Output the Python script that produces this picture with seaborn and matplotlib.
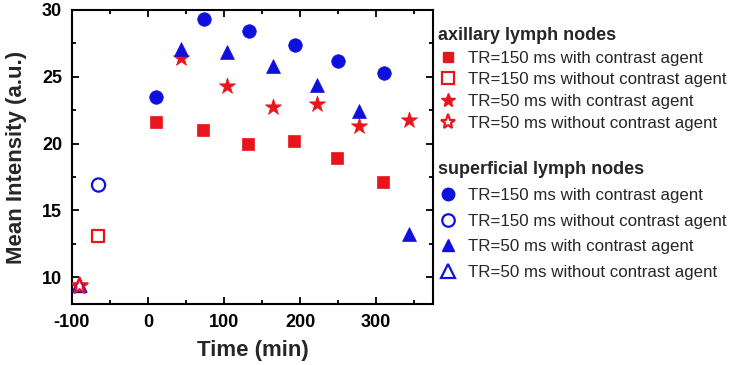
import matplotlib
matplotlib.use("Agg")
import matplotlib.pyplot as plt
import seaborn as sns
from matplotlib.lines import Line2D
from matplotlib.ticker import MultipleLocator

sns.set_theme(style="ticks")
plt.rcParams["font.family"] = ["Liberation Sans", "DejaVu Sans"]
plt.rcParams["axes.unicode_minus"] = False

RED = "#e8151c"
BLUE = "#1010dd"

# axillary lymph nodes
ax_sq_t = [11, 73, 132, 192, 249, 309]
ax_sq_v = [21.6, 21.05, 20.0, 20.2, 18.95, 17.1]
ax_sq_open_t = [-66]
ax_sq_open_v = [13.1]
ax_star_t = [43, 104, 164, 223, 277, 343]
ax_star_v = [26.4, 24.3, 22.75, 22.95, 21.3, 21.8]
ax_star_open_t = [-90]
ax_star_open_v = [9.35]

# superficial lymph nodes
su_ci_t = [11, 74, 133, 193, 250, 311]
su_ci_v = [23.45, 29.35, 28.45, 27.35, 26.15, 25.3]
su_ci_open_t = [-65]
su_ci_open_v = [16.9]
su_tri_t = [43, 104, 164, 222, 278, 343]
su_tri_v = [27.1, 26.85, 25.8, 24.35, 22.4, 13.25]
su_tri_open_t = [-90]
su_tri_open_v = [9.4]

labels = ["TR=150 ms with contrast agent", "TR=150 ms without contrast agent",
          "TR=50 ms with contrast agent", "TR=50 ms without contrast agent"]

fig = plt.figure(figsize=(7.34, 3.65), dpi=100)
ax = fig.add_axes([0.098, 0.167, 0.492, 0.806])

series = [
    (su_tri_open_t, su_tri_open_v, "^", BLUE, False, 95),
    (ax_star_open_t, ax_star_open_v, "*", RED, False, 150),
    (ax_sq_open_t, ax_sq_open_v, "s", RED, False, 80),
    (su_ci_open_t, su_ci_open_v, "o", BLUE, False, 90),
    (ax_sq_t, ax_sq_v, "s", RED, True, 80),
    (ax_star_t, ax_star_v, "*", RED, True, 150),
    (su_ci_t, su_ci_v, "o", BLUE, True, 95),
    (su_tri_t, su_tri_v, "^", BLUE, True, 100),
]
for t, v, m, c, filled, s in series:
    if filled:
        sns.scatterplot(x=t, y=v, marker=m, s=s, color=c, edgecolor=c,
                        linewidth=0.5, ax=ax, zorder=3)
    else:
        sns.scatterplot(x=t, y=v, marker=m, s=s, facecolor="none", edgecolor=c,
                        linewidth=1.6, ax=ax, zorder=3)

ax.set_xlim(-100, 375)
ax.set_ylim(8, 30)
ax.xaxis.set_major_locator(MultipleLocator(100))
ax.xaxis.set_minor_locator(MultipleLocator(50))
ax.yaxis.set_major_locator(MultipleLocator(5))
ax.yaxis.set_minor_locator(MultipleLocator(2.5))
ax.tick_params(which="both", direction="in", top=True, right=True, width=1.3,
               labelsize=13, colors="black")
ax.tick_params(which="major", length=5, pad=7)
ax.tick_params(which="minor", length=3)
for lab in ax.get_xticklabels() + ax.get_yticklabels():
    lab.set_fontweight("bold")
for sp in ax.spines.values():
    sp.set_linewidth(1.5)
    sp.set_color("black")
ax.set_xlabel("Time (min)", fontsize=16, fontweight="bold", labelpad=7)
ax.set_ylabel("Mean Intensity (a.u.)", fontsize=16, fontweight="bold", labelpad=11)


def handles(color, specs):
    out = []
    for m, filled, ms in specs:
        out.append(Line2D([], [], linestyle="none", marker=m, markersize=ms,
                          markerfacecolor=color if filled else "none",
                          markeredgecolor=color, markeredgewidth=1.0 if filled else 1.6))
    return out


h1 = handles(RED, [("s", True, 7), ("s", False, 8), ("*", True, 10), ("*", False, 11)])
h2 = handles(BLUE, [("o", True, 9), ("o", False, 9), ("^", True, 9), ("^", False, 10)])

leg_kw = dict(frameon=False, fontsize=12.2, handletextpad=0.6, handlelength=1.2,
              alignment="left", borderaxespad=0)
title_fp = {"weight": "bold", "size": 13}
leg1 = fig.legend(h1, labels, loc="upper left", bbox_to_anchor=(0.587, 0.945),
                  title="axillary lymph nodes", title_fontproperties=title_fp,
                  labelspacing=0.4, **leg_kw)
leg2 = fig.legend(h2, labels, loc="upper left", bbox_to_anchor=(0.587, 0.578),
                  title="superficial lymph nodes", title_fontproperties=title_fp,
                  labelspacing=0.62, **leg_kw)

fig.savefig("out.png", dpi=100)
